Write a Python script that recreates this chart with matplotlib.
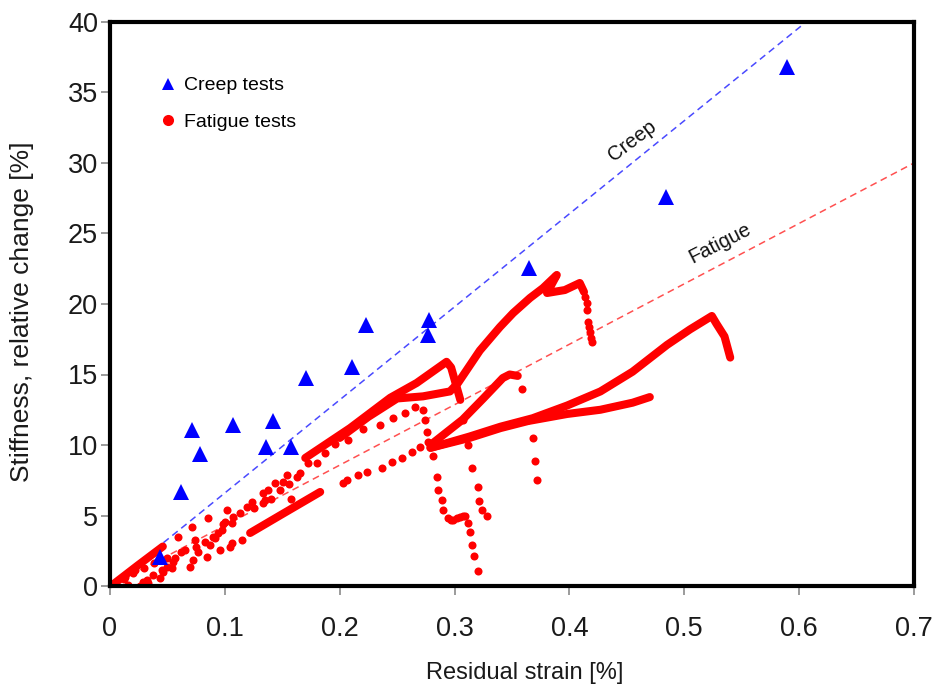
import matplotlib
matplotlib.use("Agg")
import matplotlib.pyplot as plt
from matplotlib.lines import Line2D
import numpy as np

plt.rcParams['font.family'] = ['Liberation Sans', 'DejaVu Sans']

# ---------------- data ----------------
creep_x = [0.589, 0.484, 0.365, 0.278, 0.277, 0.223, 0.211, 0.171, 0.142, 0.136, 0.158, 0.107, 0.071, 0.078, 0.062, 0.0435]
creep_y = [36.8, 27.6, 22.55, 18.9, 17.8, 18.5, 15.5, 14.75, 11.7, 9.86, 9.86, 11.4, 11.06, 9.36, 6.67, 2.06]

creep_slope = 66.0
fatigue_slope = 42.86

# dense (continuous) parts of the fatigue records
dense_a_x = [0.002, 0.024, 0.046]
dense_a_y = [0.07, 1.45, 2.8]

dense_b_x = [0.170, 0.209, 0.244, 0.267, 0.293, 0.297, 0.305]
dense_b_y = [9.08, 11.2, 13.35, 14.4, 15.9, 15.5, 13.2]

dense_c_x = [0.200, 0.225, 0.250, 0.2725, 0.296, 0.303, 0.322, 0.3395, 0.351, 0.3657, 0.377, 0.389, 0.3805, 0.396, 0.409, 0.4127]
dense_c_y = [10.5, 12.0, 13.3, 13.45, 13.8, 14.4, 16.7, 18.37, 19.36, 20.43, 21.13, 22.06, 20.78, 20.99, 21.49, 20.85]

dense_h_x = [0.122, 0.150, 0.183]
dense_h_y = [3.76, 5.1, 6.67]

dense_e_x = [0.279, 0.307, 0.325, 0.342, 0.348, 0.355]
dense_e_y = [10.0, 11.8, 13.3, 14.75, 15.0, 14.9]

dense_f_x = [0.279, 0.313, 0.340, 0.368, 0.383, 0.398, 0.427, 0.455, 0.485, 0.505, 0.524, 0.528, 0.535, 0.540]
dense_f_y = [9.8, 10.6, 11.3, 11.9, 12.35, 12.8, 13.8, 15.2, 17.1, 18.2, 19.15, 18.6, 17.7, 16.2]

dense_g_x = [0.279, 0.313, 0.340, 0.364, 0.398, 0.427, 0.455, 0.470]
dense_g_y = [9.8, 10.5, 11.2, 11.7, 12.2, 12.5, 13.0, 13.4]

# sparse (dotted) parts of the fatigue records
dots_1_x = [0.059, 0.071, 0.085, 0.102, 0.119, 0.124, 0.133, 0.1375, 0.144, 0.151, 0.154, 0.165, 0.172, 0.180,
            0.187, 0.196, 0.207, 0.220, 0.235, 0.246, 0.257, 0.2655, 0.2725, 0.274, 0.276, 0.277, 0.281, 0.285,
            0.286, 0.289, 0.290, 0.294, 0.297, 0.299, 0.302, 0.305, 0.307, 0.309, 0.312, 0.313, 0.315, 0.317, 0.320]
dots_1_y = [3.5, 4.2, 4.8, 5.4, 5.6, 5.96, 6.6, 6.8, 7.3, 7.4, 7.9, 8.0, 8.7, 8.7,
            9.4, 10.1, 10.35, 11.1, 11.4, 11.9, 12.3, 12.7, 12.5, 11.8, 10.9, 10.2, 9.2, 7.7,
            6.8, 6.1, 5.4, 4.8, 4.7, 4.7, 4.8, 4.9, 4.95, 5.0, 4.5, 3.8, 2.9, 2.1, 1.06]

dots_b_tail_x = [0.307, 0.312, 0.315, 0.320, 0.321, 0.324, 0.328]
dots_b_tail_y = [11.8, 10.0, 8.4, 7.0, 6.0, 5.4, 5.0]

dots_mid_x = [0.012, 0.020, 0.030, 0.038, 0.050, 0.062, 0.075, 0.090, 0.094, 0.098, 0.107, 0.113, 0.125,
              0.133, 0.140, 0.148, 0.156, 0.158, 0.163]
dots_mid_y = [0.5, 0.9, 1.3, 1.6, 2.0, 2.4, 2.8, 3.5, 3.76, 4.4, 4.9, 5.2, 5.5,
              5.9, 6.2, 6.8, 7.2, 6.2, 7.7]

dots_c_tail_x = [0.4135, 0.415, 0.415, 0.416, 0.417, 0.418, 0.419, 0.420]
dots_c_tail_y = [20.5, 20.1, 19.6, 18.7, 18.35, 18.0, 17.6, 17.3]

dots_e_tail_x = [0.359, 0.364, 0.368, 0.370, 0.372]
dots_e_tail_y = [14.0, 11.8, 10.5, 8.9, 7.5]

dots_low_in_x = [0.0261, 0.0287, 0.0322, 0.0374, 0.0461, 0.054, 0.0697, 0.0845, 0.0958, 0.1045, 0.115]
dots_low_in_y = [0.0, 0.28, 0.43, 0.78, 0.99, 1.28, 1.35, 2.06, 2.55, 2.77, 3.26]

dots_low_out_x = [0.203, 0.206, 0.216, 0.224, 0.237, 0.2455, 0.254, 0.263, 0.270]
dots_low_out_y = [7.3, 7.5, 7.9, 8.1, 8.4, 8.8, 9.1, 9.5, 9.86]

dots_cluster_x = [0.0, 0.0157, 0.0131, 0.0218, 0.0331, 0.0435, 0.0453, 0.0496, 0.0549, 0.0566, 0.0653, 0.0723,
                  0.0740, 0.0766, 0.0827, 0.0871, 0.0914, 0.0975, 0.1001, 0.1062, 0.1062, 0.135]
dots_cluster_y = [0.0, 0.07, 0.64, 1.13, 0.21, 0.57, 1.13, 1.35, 1.70, 1.99, 2.55, 1.84,
                  3.26, 2.41, 3.12, 2.91, 3.40, 3.97, 4.54, 4.47, 3.05, 6.1]

x_ticks = [0, 0.1, 0.2, 0.3, 0.4, 0.5, 0.6, 0.7]
x_tick_labels = ["0", "0.1", "0.2", "0.3", "0.4", "0.5", "0.6", "0.7"]
y_ticks = [0, 5, 10, 15, 20, 25, 30, 35, 40]
y_tick_labels = ["0", "5", "10", "15", "20", "25", "30", "35", "40"]

# ---------------- figure ----------------
fig = plt.figure(figsize=(9.37, 6.89), dpi=100)
ax = fig.add_axes([110/937, (689-586)/689, 804/937, 564/689])
ax.set_xlim(0, 0.7)
ax.set_ylim(0, 40)

RED = '#ff0000'
lw_dense = 5.8
ms_dot = 5.8

# trend lines
tx = np.array([0.0, 0.7])
ax.plot(tx, creep_slope * tx, color='#4a4aff', lw=1.1, dashes=(4.5, 3), zorder=1)
ax.plot(tx, fatigue_slope * tx, color='#ff5050', lw=1.1, dashes=(4.5, 3), zorder=1)

for xs, ys in [(dense_a_x, dense_a_y), (dense_b_x, dense_b_y), (dense_c_x, dense_c_y),
               (dense_h_x, dense_h_y), (dense_e_x, dense_e_y), (dense_f_x, dense_f_y),
               (dense_g_x, dense_g_y)]:
    ax.plot(xs, ys, color=RED, lw=lw_dense, solid_capstyle='round', solid_joinstyle='round', zorder=2)

for xs, ys in [(dots_1_x, dots_1_y), (dots_b_tail_x, dots_b_tail_y), (dots_mid_x, dots_mid_y),
               (dots_c_tail_x, dots_c_tail_y), (dots_e_tail_x, dots_e_tail_y),
               (dots_low_in_x, dots_low_in_y), (dots_low_out_x, dots_low_out_y),
               (dots_cluster_x, dots_cluster_y)]:
    ax.plot(xs, ys, ls='none', marker='o', ms=ms_dot, mew=0, color=RED, zorder=2)

ax.plot(creep_x, creep_y, ls='none', marker='^', ms=11, mew=0, color='#0000ff', zorder=3)

# annotations
ax.text(0.4545, 31.6, "Creep", rotation=37, fontsize=14.5, ha='center', va='center', color='#111111')
ax.text(0.531, 24.3, "Fatigue", rotation=27, fontsize=14.5, ha='center', va='center', color='#111111')

# legend
h1 = Line2D([], [], ls='none', marker='^', color='#0000ff', ms=8.5, mew=0)
h2 = Line2D([], [], ls='none', marker='o', color=RED, ms=8, mew=0)
ax.legend([h1, h2], ['Creep tests', 'Fatigue tests'], loc='upper left', bbox_to_anchor=(0.05, 0.9166),
          frameon=False, fontsize=14, handletextpad=0.35, labelspacing=0.97, handlelength=1.0,
          borderaxespad=0)

# axes styling
for s in ax.spines.values():
    s.set_linewidth(3)
    s.set_color('black')
ax.set_xticks(x_ticks)
ax.set_xticklabels(x_tick_labels)
ax.set_yticks(y_ticks)
ax.set_yticklabels(y_tick_labels)
ax.tick_params(axis='both', direction='out', length=6.5, width=1.1, color='#808080',
               labelsize=19.5, labelcolor='#1a1a1a')
ax.tick_params(axis='x', pad=15)
ax.tick_params(axis='y', pad=2)
ax.set_xlabel("Residual strain [%]", fontsize=17, color='#1a1a1a', va='center')
ax.xaxis.set_label_coords((525 - 110) / 804, -(673 - 586) / 564)
ax.set_ylabel("Stiffness, relative change [%]", fontsize=19, color='#1a1a1a', va='center')
ax.yaxis.set_label_coords((22 - 110) / 804, (586 - 312) / 564)

fig.savefig("out.png", dpi=100)
